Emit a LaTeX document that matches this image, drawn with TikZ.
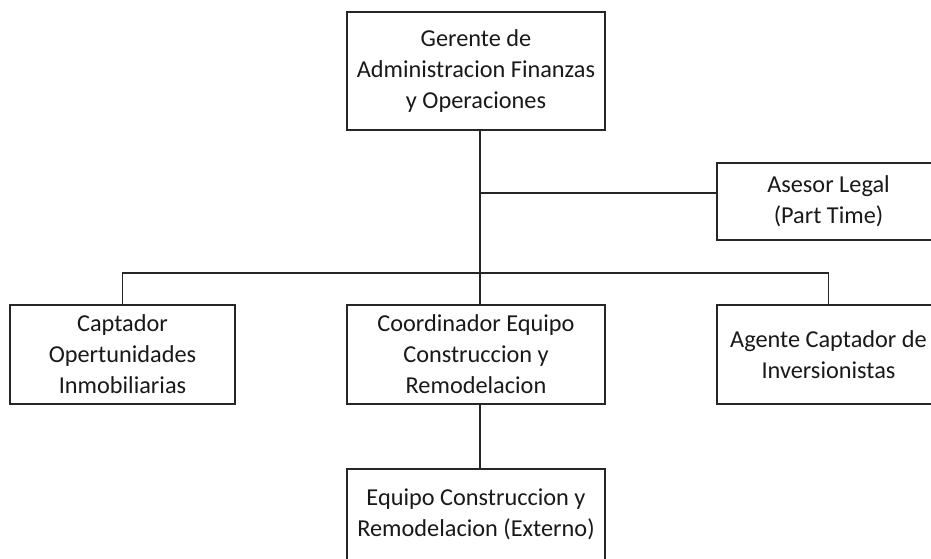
\documentclass[tikz,border=0pt]{standalone}
\usepackage{fontspec}
\setmainfont{Carlito}
\begin{document}
\begin{tikzpicture}[x=1pt,y=-1pt,
  box/.style={draw=black!85, line width=1.5pt, fill=white, align=center, inner sep=0pt,
    font=\fontsize{24.3}{31}\selectfont, text=black!90},
  conn/.style={draw=black!85, line width=1.5pt}]
\useasboundingbox (0,0) rectangle (931,558);
\node[box, minimum width=258pt, minimum height=118pt] (ger) at (476,71) {Gerente de\\Administracion Finanzas\\y Operaciones};
\node[box, minimum width=223pt, minimum height=77pt] (ase) at (828.5,201.5) {Asesor Legal\\(Part Time)};
\node[box, minimum width=225pt, minimum height=99pt] (cap) at (122.5,354.5) {Captador\\Opertunidades\\Inmobiliarias};
\node[box, minimum width=258pt, minimum height=99pt] (coo) at (476,354.5) {Coordinador Equipo\\Construccion y\\Remodelacion};
\node[box, minimum width=223pt, minimum height=99pt] (age) at (828.5,354.5) {Agente Captador de\\Inversionistas};
\node[box, minimum width=258pt, minimum height=91pt] (equ) at (476,514.5) {Equipo Construccion y\\Remodelacion (Externo)};
\coordinate (t1) at (480,130);
\coordinate (t2) at (480,193);
\coordinate (t3) at (480,273);
\coordinate (c1) at (480,404);
\coordinate (c2) at (480,469);
\draw[conn] (t1) -- (t3);
\draw[conn] (t2) -- (ase.west |- t2);
\draw[conn] (cap.north) |- (t3) -| (age.north);
\draw[conn] (t3) -- (t3 |- coo.north);
\draw[conn] (c1) -- (c2);
\end{tikzpicture}
\end{document}
